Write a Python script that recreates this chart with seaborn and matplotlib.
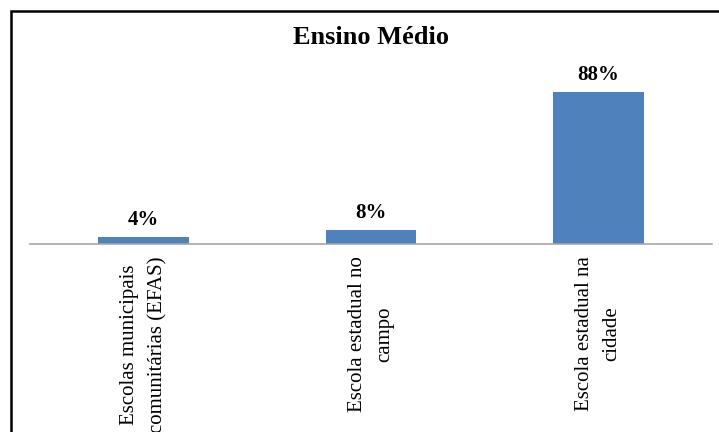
import matplotlib
matplotlib.use("Agg")
import matplotlib.pyplot as plt
import seaborn as sns
import pandas as pd
from matplotlib.patches import Rectangle

categories = ["Escolas municipais\ncomunitárias (EFAS)",
              "Escola estadual no\ncampo",
              "Escola estadual na\ncidade"]
values = [4, 8, 88]
value_labels = ["4%", "8%", "88%"]
title = "Ensino Médio"

sns.set_theme(style="white")
plt.rcParams["font.family"] = ["Liberation Serif", "DejaVu Serif"]

W, H = 719, 432
fig = plt.figure(figsize=(W / 100, H / 100), dpi=100)
fig.patch.set_facecolor("white")

ax_left, ax_right = 30 / W, 712 / W
base_y = 244
ax_top_px = 71.3
ax = fig.add_axes([ax_left, (H - base_y) / H, ax_right - ax_left, (base_y - ax_top_px) / H])

df = pd.DataFrame({"cat": categories, "val": values})
sns.barplot(data=df, x="cat", y="val", color="#4F81BD", width=0.4,
            saturation=1, ax=ax, errorbar=None, linewidth=0)

ax.set_ylim(0, 100)
ax.set_xlim(-0.5, 2.5)
ax.set_xlabel("")
ax.set_ylabel("")
ax.set_yticks([])
for s in ["top", "right", "left"]:
    ax.spines[s].set_visible(False)
ax.spines["bottom"].set_color("#a6a6a6")
ax.spines["bottom"].set_linewidth(1.2)
ax.set_facecolor("none")

ax.tick_params(axis="x", length=0, pad=9)
for lbl in ax.get_xticklabels():
    lbl.set_rotation(90)
    lbl.set_fontsize(15)
    lbl.set_ha("center")
    lbl.set_va("top")
    lbl.set_linespacing(1.62)
    lbl.set_color("black")

ax.bar_label(ax.containers[0], labels=value_labels, padding=5,
             fontsize=15, fontweight="bold", color="black")

fig.text(371 / W, 1 - 38 / H, title, ha="center", va="center",
         fontsize=19, fontweight="bold", color="black")

fig.add_artist(Rectangle((11 / W, -0.2), 2.0, 1.2 - 11 / H,
                         transform=fig.transFigure, fill=False,
                         edgecolor="black", linewidth=1.8, clip_on=False))

fig.savefig("out.png", dpi=100, facecolor="white")
